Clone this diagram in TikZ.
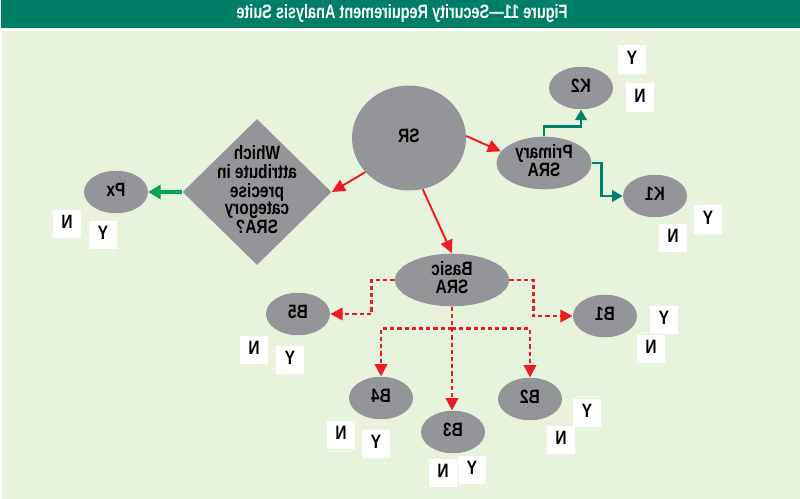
\documentclass[tikz,border=0pt]{standalone}
\usepackage{fontspec}
\setmainfont{Liberation Sans}
\usepackage{graphicx}
\usetikzlibrary{shapes.geometric,arrows.meta,calc}

\definecolor{titlegreen}{HTML}{007F67}
\definecolor{bggreen}{HTML}{E7F3DD}
\definecolor{nodegray}{HTML}{939598}
\definecolor{arrowred}{HTML}{ED1C24}
\definecolor{arrowgreen}{HTML}{00A651}
\definecolor{arrowteal}{HTML}{00806A}

\newcommand{\mir}[1]{\scalebox{-0.8}[1]{\def\arraystretch{0.92}\begin{tabular}{@{}c@{}}#1\end{tabular}}}

\begin{document}
\begin{tikzpicture}[
x=0.02cm,
y=-0.02cm,
font=\fontsize{11}{10}\selectfont\bfseries,
blob/.style={
  ellipse,
  fill=nodegray,
  draw=none,
  inner sep=0pt,
  minimum width=1.28cm,
  minimum height=0.85cm
  },
bigblob/.style={
  blob,
  minimum width=1.9cm,
  minimum height=1cm
  },
ask/.style={
  diamond,
  fill=nodegray,
  inner sep=0pt,
  minimum width=2.98cm,
  minimum height=2.92cm
  },
yn/.style={
  rectangle,
  fill=white,
  inner sep=0pt,
  minimum width=0.56cm,
  minimum height=0.58cm
  },
redline/.style={
  draw=arrowred,
  line width=1.1pt,
  -{Triangle[length=7.5pt,width=7pt]}
  },
reddash/.style={
  draw=arrowred,
  line width=1.5pt,
  dash pattern=on 2.4pt off 1.7pt,
  -{Triangle[length=7pt,width=7pt]}
  },
tealline/.style={
  draw=arrowteal,
  line width=1.6pt,
  -{Triangle[length=6pt,width=6.5pt]}
  },
greenline/.style={
  draw=arrowgreen,
  line width=1.8pt,
  -{Triangle[length=7pt,width=8pt]}
  }
]
\useasboundingbox (0,0) rectangle (800,499);
\fill[white] (0,0) rectangle (800,499);
\fill[titlegreen] (1,0) rectangle (800,28);
\fill[bggreen] (2,31) rectangle (800,499);
\node[text=white,font=\fontsize{11}{11}\selectfont\bfseries] (title) at (402,14)
  {\scalebox{-0.75}[1]{Figure 11—Security Requirement Analysis Suite}};

\node[ellipse,fill=nodegray,inner sep=0pt,minimum width=2.28cm,minimum height=2.1cm] (sr) at (409,138) {\mir{SR}};
\node[bigblob] (prim) at (544,163) {\mir{Primary\\SRA}};
\node[blob] (k2) at (581,88) {\mir{K2}};
\node[blob] (k1) at (655,196) {\mir{K1}};
\node[ask,label={center:\mir{Which\\attribute in\\precise\\category\\SRA?}}] (dia) at (257,192) {};
\node[blob] (px) at (116,192) {\mir{Px}};
\node[bigblob,minimum width=2.28cm] (basic) at (452,280) {\mir{Basic\\SRA}};
\node[blob] (b5) at (298,314) {\mir{B5}};
\node[blob] (b1) at (605,316) {\mir{B1}};
\node[blob] (b4) at (381,398) {\mir{B4}};
\node[blob] (b3) at (453,432) {\mir{B3}};
\node[blob] (b2) at (530,399) {\mir{B2}};

\node[yn] (k2y) at (632,60) {\mir{Y}};
\node[yn] (k2n) at (640,98) {\mir{N}};
\node[yn] (k1y) at (708,220) {\mir{Y}};
\node[yn] (k1n) at (673,238) {\mir{N}};
\node[yn] (pxn) at (67,224) {\mir{N}};
\node[yn] (pxy) at (103,235) {\mir{Y}};
\node[yn] (b5n) at (254,350) {\mir{N}};
\node[yn] (b5y) at (290,360) {\mir{Y}};
\node[yn] (b1y) at (664,320) {\mir{Y}};
\node[yn] (b1n) at (651,349) {\mir{N}};
\node[yn] (b4n) at (341,435) {\mir{N}};
\node[yn] (b4y) at (376,444) {\mir{Y}};
\node[yn] (b3n) at (443,473) {\mir{N}};
\node[yn] (b3y) at (472,470) {\mir{Y}};
\node[yn] (b2y) at (587,413) {\mir{Y}};
\node[yn] (b2n) at (561,440) {\mir{N}};

\coordinate (hbar) at ($(basic.south)+(0,22)$);

\draw[redline] (sr.2) -- (prim.165);
\draw[redline] (sr.218) -- (dia.east);
\draw[redline] (sr.-75) -- (basic.north);
\draw[greenline] (dia.west) -- (px.east);
\draw[tealline] (prim.north) -- ++(0,-10) -| (k2.south);
\draw[tealline] (prim.east) -- ++(10,0) |- (k1.west);
\draw[reddash] (basic.west) -- ++(-23,0) |- (b5.east);
\draw[reddash] (basic.east) -- ++(24,0) |- (b1.west);
\draw[reddash] (basic.south) -- (basic.south |- b3.north);
\draw[reddash] (hbar) -| (b4.north);
\draw[reddash] (hbar) -| (b2.north);
\end{tikzpicture}
\end{document}
